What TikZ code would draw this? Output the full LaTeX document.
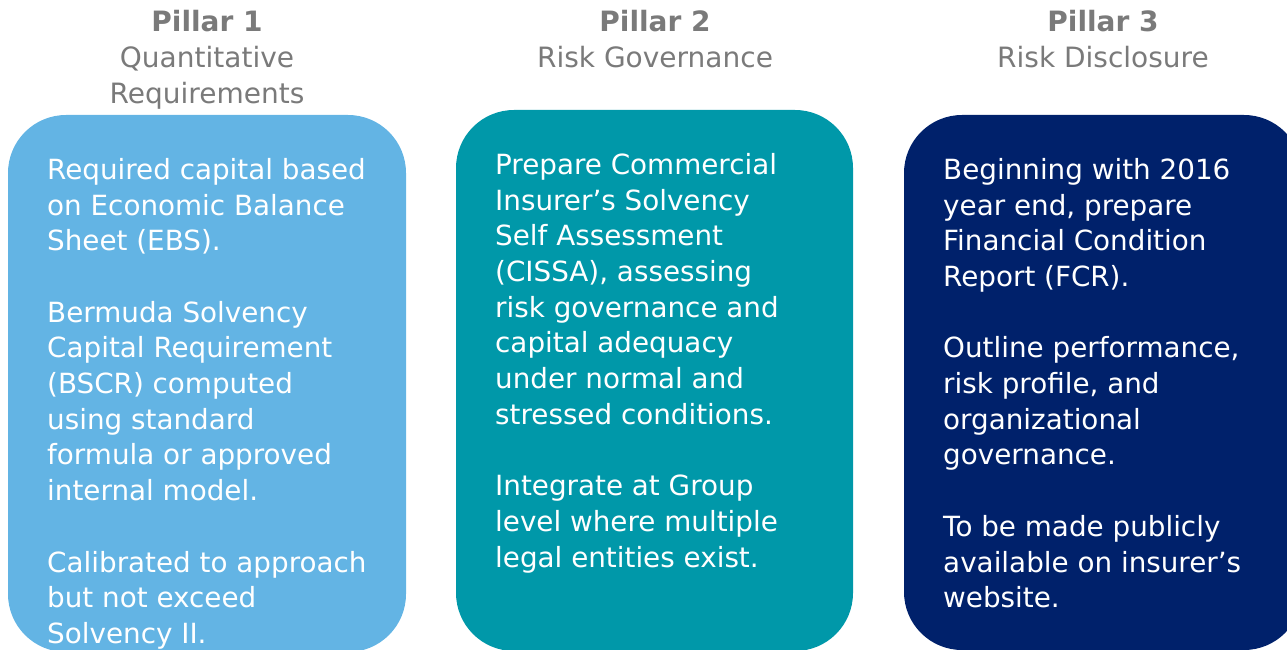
\documentclass[tikz,border=0pt]{standalone}
\usepackage{fontspec}
\setmainfont{DejaVu Sans}
\definecolor{pillarone}{HTML}{63B4E4}
\definecolor{pillartwo}{HTML}{0098A9}
\definecolor{pillarthree}{HTML}{00216B}
\definecolor{headgray}{HTML}{7A7A7A}
\begin{document}
\begin{tikzpicture}[x=1pt,y=-1pt,
  pillarbox/.style={rounded corners=58pt},
  headtext/.style={text=headgray, align=center, inner sep=0pt, anchor=north,
    font=\fontsize{28}{36}\selectfont},
  bodytext/.style={text=white, align=left, inner sep=0pt, anchor=north west,
    font=\fontsize{27.8}{35.7}\selectfont}]
  \useasboundingbox (0,0) rectangle (1287,650);
  \begin{scope}
    \clip (0,0) rectangle (1287,650);
    % pillar panels
    \fill[pillarone, pillarbox]   (8,115)   rectangle (406,652);
    \fill[pillartwo, pillarbox]   (456,110) rectangle (853,651);
    \fill[pillarthree, pillarbox] (904,115) rectangle (1302,650);
  \end{scope}
  % headings
  \node[headtext] (h1) at (207,10) {\textbf{Pillar 1}\\Quantitative\\Requirements};
  \node[headtext] (h2) at (655,10) {\textbf{Pillar 2}\\Risk Governance};
  \node[headtext] (h3) at (1103,10) {\textbf{Pillar 3}\\Risk Disclosure};
  % panel texts
  \node[bodytext] (t1) at (47,158) {Required capital based\\on Economic Balance\\Sheet (EBS).\\[35.7pt]
    Bermuda Solvency\\Capital Requirement\\(BSCR) computed\\using standard\\formula or approved\\internal model.\\[35.7pt]
    Calibrated to approach\\but not exceed\\Solvency II.};
  \node[bodytext] (t2) at (495,153) {Prepare Commercial\\Insurer’s Solvency\\Self Assessment\\(CISSA), assessing\\risk governance and\\capital adequacy\\under normal and\\stressed conditions.\\[35.7pt]
    Integrate at Group\\level where multiple\\legal entities exist.};
  \node[bodytext] (t3) at (943,158) {Beginning with 2016\\year end, prepare\\Financial Condition\\Report (FCR).\\[35.7pt]
    Outline performance,\\risk profile, and\\organizational\\governance.\\[35.7pt]
    To be made publicly\\available on insurer’s\\website.};
\end{tikzpicture}
\end{document}
